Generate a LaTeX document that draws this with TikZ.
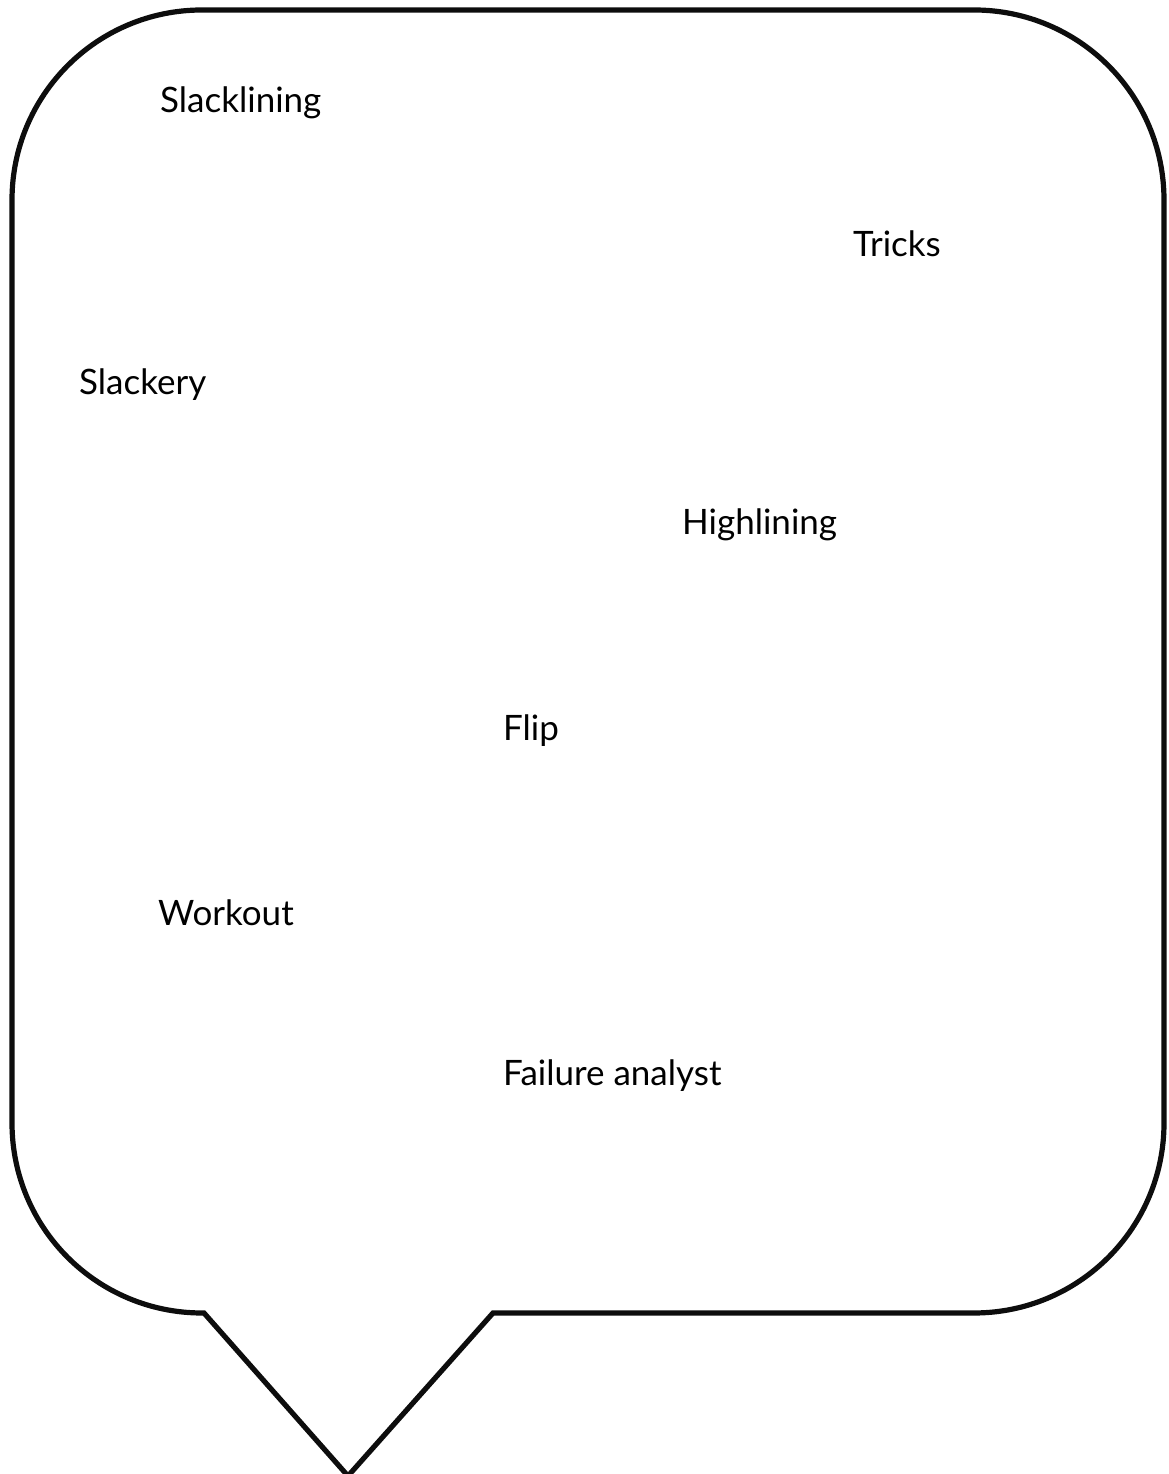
\documentclass[tikz,border=0pt]{standalone}
\usepackage{fontspec}
\setmainfont{Lato}
\begin{document}
\begin{tikzpicture}[x=1pt,y=1pt,
  bubble/.style={draw=black!95,line width=5.2pt,line join=miter},
  word/.style={anchor=west,inner sep=0pt,font=\fontsize{35}{40}\selectfont}]
\useasboundingbox (0,0) rectangle (1168,1474);
\coordinate (tip) at (348,-2);
\coordinate (bl) at (204,161);
\coordinate (br) at (493,161);
\draw[bubble] (tip) -- (bl) -- (202,161) arc[start angle=270,end angle=180,radius=190]
  -- (12,1274) arc[start angle=180,end angle=90,radius=190]
  -- (974,1464) arc[start angle=90,end angle=0,radius=190]
  -- (1164,351) arc[start angle=0,end angle=-90,radius=190]
  -- (br) -- cycle;
\node[word] (n1) at (160,1371) {Slacklining};
\node[word] (n2) at (853,1230) {Tricks};
\node[word] (n3) at (79,1089) {Slackery};
\node[word] (n4) at (682,949) {Highlining};
\node[word] (n5) at (503,743) {Flip};
\node[word] (n6) at (158,561) {Workout};
\node[word] (n7) at (503,398) {Failure analyst};
\end{tikzpicture}
\end{document}
